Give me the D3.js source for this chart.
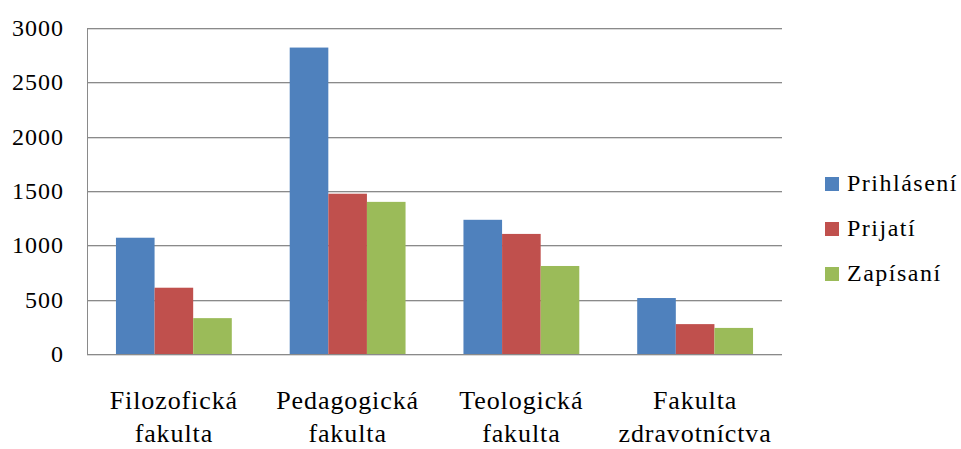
<!DOCTYPE html>
<html><head><meta charset="utf-8">
<script src="https://cdn.jsdelivr.net/npm/d3@7"></script>
<style>body{margin:0;background:#fff}svg{display:block}</style>
</head><body><svg id="c" width="961" height="449"></svg>
<script>
const categories = [["Filozofická","fakulta"],["Pedagogická","fakulta"],["Teologická","fakulta"],["Fakulta","zdravotníctva"]];
const seriesNames = ["Prihlásení","Prijatí","Zapísaní"];
const colors = ["#4F81BD","#C0504D","#9BBB59"];
const prihlaseni = [1070, 2820, 1235, 515];
const prijati = [610, 1475, 1105, 275];
const zapisani = [330, 1400, 810, 240];
const yTicks = [0,500,1000,1500,2000,2500,3000];
const values = [prihlaseni, prijati, zapisani];

const FONT = "Liberation Serif";
const svg = d3.select("#c").attr("font-family", FONT);
const L=87, R=782, T=28, B=354;
const catKeys = categories.map(c=>c.join(" "));
const x0 = d3.scaleBand().domain(catKeys).range([L,R]).padding(0);
const bw = x0.bandwidth();
const x1 = d3.scaleBand().domain(seriesNames).range([bw/6, bw*5/6]).padding(0);
const y = d3.scaleLinear().domain([0,3000]).range([B,T]);

// gridlines
const g = svg.append("g");
yTicks.forEach(t=>{
  const yy = Math.round(y(t));
  g.append("line").attr("x1",L).attr("x2",R).attr("y1",yy+1.5).attr("y2",yy+1.5).attr("stroke","#dadada").attr("stroke-width",1);
  g.append("line").attr("x1",L).attr("x2",R).attr("y1",yy+0.5).attr("y2",yy+0.5).attr("stroke","#8a8a8a").attr("stroke-width",1);
});
g.append("line").attr("x1",L+0.5).attr("x2",L+0.5).attr("y1",Math.round(y(3000))).attr("y2",Math.round(y(0))+1).attr("stroke","#8a8a8a");

// y labels
svg.append("g").selectAll("text").data(yTicks).join("text")
  .attr("font-family",FONT)
  .attr("x",64).attr("y",d=>y(d)+8).attr("text-anchor","end")
  .attr("font-size",24).attr("letter-spacing",1).attr("fill","#000").text(d=>d);

// bars
const bars = svg.append("g");
seriesNames.forEach((s,si)=>{
  bars.selectAll(null).data(values[si]).join("rect")
    .attr("x",(d,i)=>x0(catKeys[i])+x1(s))
    .attr("width",x1.bandwidth())
    .attr("y",d=>y(d)).attr("height",d=>y(0)-y(d))
    .attr("fill",colors[si]);
});

// category labels
const cl = svg.append("g");
categories.forEach((c,i)=>{
  const cx = x0(catKeys[i])+bw/2;
  c.forEach((line,li)=>{
    cl.append("text").attr("font-family",FONT).attr("x",cx).attr("y",409+li*33).attr("text-anchor","middle")
      .attr("font-size",26).attr("letter-spacing",0.9).attr("fill","#000").text(line);
  });
});

// legend
const lg = svg.append("g");
seriesNames.forEach((s,i)=>{
  const cy = 184 + i*45;
  lg.append("rect").attr("x",825).attr("y",cy-7).attr("width",14).attr("height",14).attr("fill",colors[i]);
  lg.append("text").attr("font-family",FONT).attr("x",847).attr("y",cy+7).attr("font-size",24).attr("letter-spacing",1.5).attr("fill","#000").text(s);
});
</script></body></html>
